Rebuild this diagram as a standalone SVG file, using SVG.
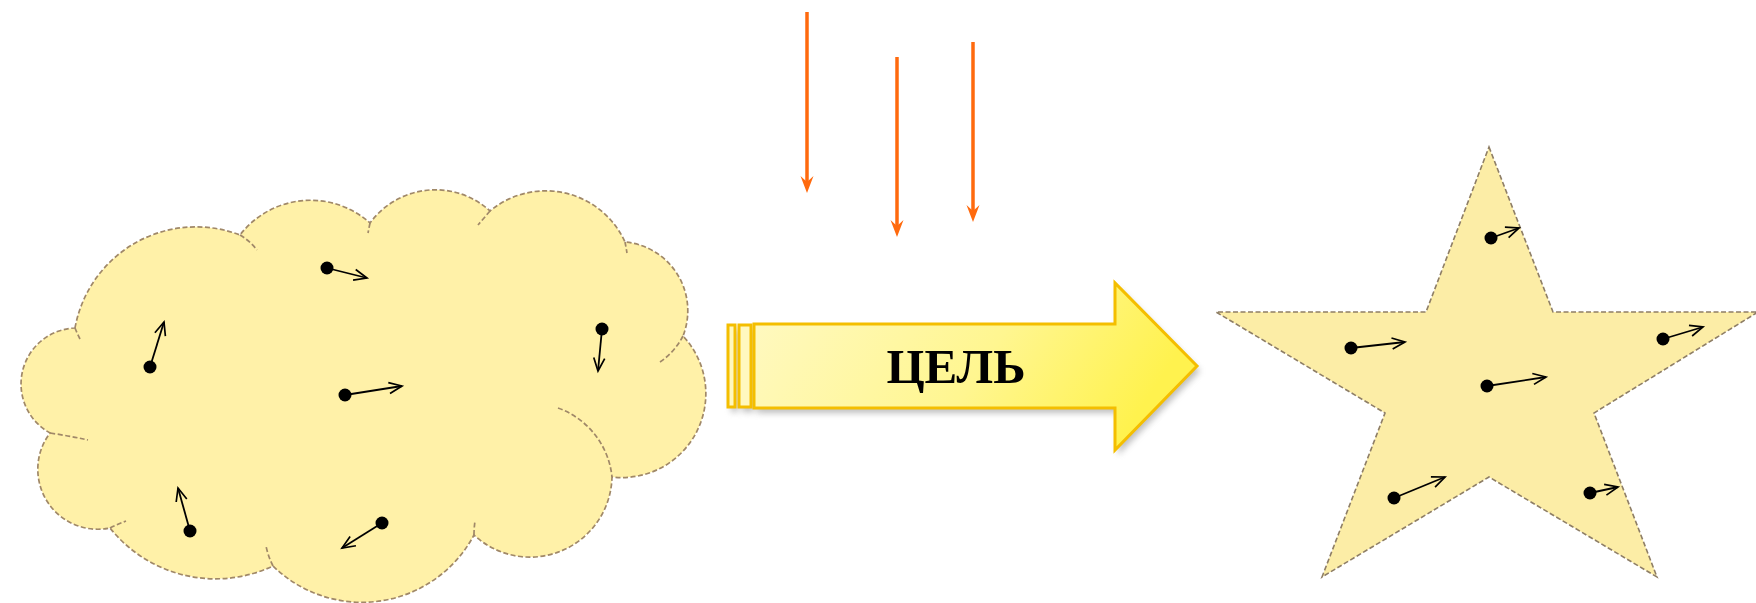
<svg xmlns="http://www.w3.org/2000/svg" width="1756" height="603" viewBox="0 0 1756 603">
<defs>
<style>
.shape{fill:#FFF1A8;stroke:#A08868;stroke-width:1.7;stroke-dasharray:5 2.5}
.star{fill:#FCEDA6;stroke:#8E7E66;stroke-width:1.6;stroke-dasharray:5 2.5}
.tick{fill:none;stroke:#A08868;stroke-width:1.7;stroke-dasharray:5 2.5}
.dot{fill:#000}
.vec{stroke:#000;stroke-width:1.8;fill:none;marker-end:url(#vh)}
.ray{stroke:#FF6A0E;stroke-width:3.5;fill:none;marker-end:url(#oh)}
.gold{stroke:#F4BE00;stroke-width:3;stroke-linejoin:miter}
.lbl{font-family:"Liberation Serif","Times New Roman",serif;font-weight:bold;font-size:49px;fill:#000}
</style>
<linearGradient id="g" x1="0" y1="0" x2="1" y2="0.25">
<stop offset="0" stop-color="#FFF9C4"/>
<stop offset="0.6" stop-color="#FFF690"/>
<stop offset="1" stop-color="#FFF24E"/>
</linearGradient>
<filter id="sh" x="-5%" y="-15%" width="115%" height="140%"><feGaussianBlur stdDeviation="3"/></filter>
<marker id="vh" viewBox="0 0 14 12" refX="13" refY="6" markerWidth="14" markerHeight="12" markerUnits="userSpaceOnUse" orient="auto" overflow="visible">
<path d="M0,0.5 L13,6 L0,11.5" fill="none" stroke="#000" stroke-width="1.7"/>
</marker>
<marker id="oh" viewBox="0 0 17 13" refX="6" refY="6.5" markerWidth="17" markerHeight="13" markerUnits="userSpaceOnUse" orient="auto" overflow="visible">
<path d="M0,0 L17,6.5 L0,13 L6,6.5 Z" fill="#FF6A0E"/>
</marker>
</defs>
<rect width="1756" height="603" fill="#FFFFFF"/>

<g id="cloud">
<path class="shape" d="M75,328 A123,123 0 0 1 240,235 A89,89 0 0 1 370,223 A81,81 0 0 1 490,211 A87,87 0 0 1 625,242 A69,69 0 0 1 683,336 A84,84 0 0 1 612,477 A82,82 0 0 1 474,535 A127,127 0 0 1 273,566 A135,135 0 0 1 110,528 A60,60 0 0 1 50,433 A56,56 0 0 1 75,328 Z"/>
<path class="tick" d="M75,328 Q77,333 80,339"/>
<path class="tick" d="M240,235 Q250,241 257,250"/>
<path class="tick" d="M370,223 Q369,228 368,233"/>
<path class="tick" d="M490,211 Q484,218 478,225"/>
<path class="tick" d="M625,242 Q626,247 627,253"/>
<path class="tick" d="M683,336 A70,70 0 0 1 660,362"/>
<path class="tick" d="M558,408 A82,82 0 0 1 612,477"/>
<path class="tick" d="M474,535 Q474,528 475,521"/>
<path class="tick" d="M273,566 Q268,556 266,546"/>
<path class="tick" d="M110,528 Q118,524 126,521"/>
<path class="tick" d="M50,433 Q70,436 88,440"/>
<line class="vec" x1="327" y1="268" x2="367" y2="278"/>
<line class="vec" x1="150" y1="367" x2="164" y2="322"/>
<line class="vec" x1="345" y1="395" x2="402" y2="386"/>
<line class="vec" x1="602" y1="329" x2="598" y2="371"/>
<line class="vec" x1="190" y1="531" x2="178" y2="488"/>
<line class="vec" x1="382" y1="523" x2="342" y2="548"/>
<circle class="dot" cx="327" cy="268" r="6.5"/>
<circle class="dot" cx="150" cy="367" r="6.5"/>
<circle class="dot" cx="345" cy="395" r="6.5"/>
<circle class="dot" cx="602" cy="329" r="6.5"/>
<circle class="dot" cx="190" cy="531" r="6.5"/>
<circle class="dot" cx="382" cy="523" r="6.5"/>
</g>

<g id="goal-arrow">
<g fill="#8A8A8A" opacity="0.55" filter="url(#sh)" transform="translate(3,5)">
<rect x="728" y="325" width="7" height="82"/>
<rect x="739" y="325" width="12" height="82"/>
<polygon points="754,324 1115,324 1115,283 1197,366 1115,450 1115,408 754,408"/>
</g>
<rect class="gold" x="728" y="325" width="7" height="82" fill="#FFF8BE"/>
<rect class="gold" x="739" y="325" width="12" height="82" fill="#FFF8BE"/>
<polygon class="gold" fill="url(#g)" points="754,324 1115,324 1115,283 1197,366 1115,450 1115,408 754,408"/>
<text class="lbl" x="956" y="383" text-anchor="middle">ЦЕЛЬ</text>
</g>

<g id="star">
<polygon class="star" points="1489,147 1553,312 1758,312 1594,413 1657,577 1489,477 1322,577 1385,413 1216,312 1426,312"/>
<line class="vec" x1="1491" y1="238" x2="1519" y2="228"/>
<line class="vec" x1="1351" y1="348" x2="1405" y2="342"/>
<line class="vec" x1="1663" y1="339" x2="1703" y2="327"/>
<line class="vec" x1="1487" y1="386" x2="1546" y2="377"/>
<line class="vec" x1="1394" y1="498" x2="1445" y2="477"/>
<line class="vec" x1="1590" y1="493" x2="1618" y2="487"/>
<circle class="dot" cx="1491" cy="238" r="6.5"/>
<circle class="dot" cx="1351" cy="348" r="6.5"/>
<circle class="dot" cx="1663" cy="339" r="6.5"/>
<circle class="dot" cx="1487" cy="386" r="6.5"/>
<circle class="dot" cx="1394" cy="498" r="6.5"/>
<circle class="dot" cx="1590" cy="493" r="6.5"/>
</g>

<g id="connectors">
<line class="ray" x1="807" y1="12" x2="807" y2="182"/>
<line class="ray" x1="897" y1="57" x2="897" y2="226"/>
<line class="ray" x1="973" y1="42" x2="973" y2="211"/>
</g>
</svg>
